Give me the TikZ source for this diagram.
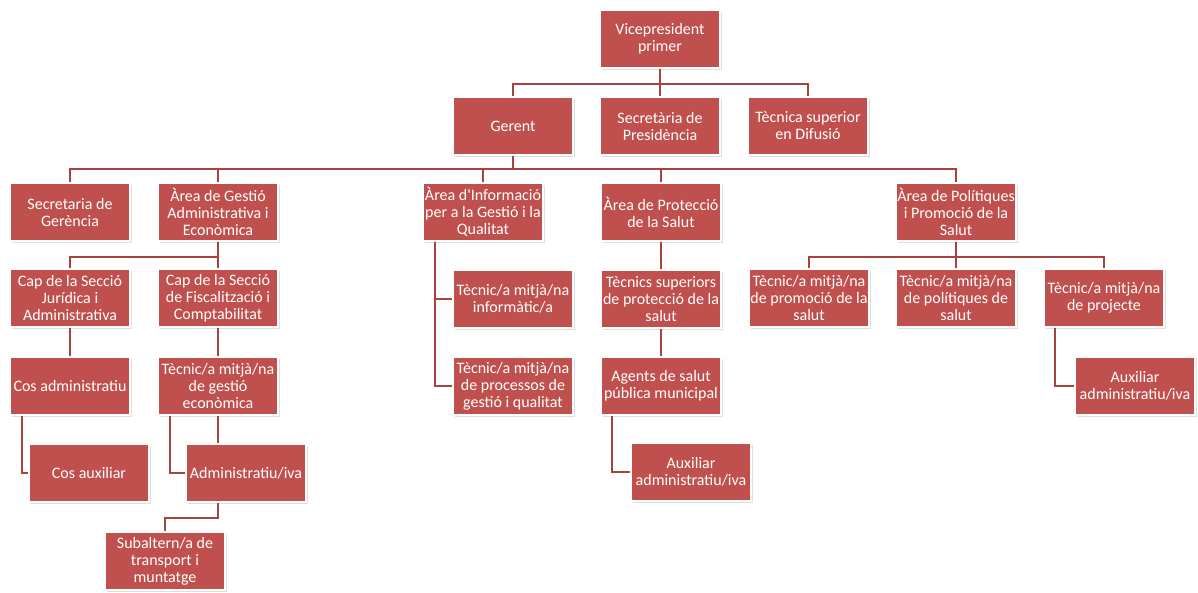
\documentclass[tikz,border=0pt]{standalone}
\usepackage{fontspec}
\setmainfont{Carlito}[Ligatures=TeXOff]
\usetikzlibrary{shadows}
\definecolor{boxred}{HTML}{C0504D}
\definecolor{linered}{HTML}{A8423F}
\tikzset{
  post/.style={rectangle, fill=boxred, draw=white, line width=1.5pt,
    minimum width=120pt, minimum height=58pt, inner sep=1pt,
    text=white, align=center, font=\fontsize{16}{17}\selectfont,
    drop shadow={shadow xshift=1.5pt, shadow yshift=-2pt, opacity=0.25}},
  link/.style={draw=linered, line width=2pt}
}
\begin{document}
\begin{tikzpicture}[x=1pt, y=-1pt]
  \useasboundingbox (0,0) rectangle (1198,592);
  % top
  \node[post] (vp) at (660,39) {Vicepresident\\primer};
  \node[post] (gerent) at (513,126) {Gerent};
  \node[post] (secpres) at (660,126) {Secretària de\\Presidència};
  \node[post] (difusio) at (808,126) {Tècnica superior\\en Difusió};
  % areas
  \node[post] (secger) at (70,212) {Secretaria de\\Gerència};
  \node[post] (gestio) at (218,212) {Àrea de Gestió\\Administrativa i\\Econòmica};
  \node[post] (info) at (483,212) {Àrea d'Informació\\per a la Gestió i la\\Qualitat};
  \node[post] (proteccio) at (661,212) {Àrea de Protecció\\de la Salut};
  \node[post] (politiques) at (956,212) {Àrea de Polítiques\\i Promoció de la\\Salut};
  % third row
  \node[post] (capjur) at (70,298) {Cap de la Secció\\Jurídica i\\Administrativa};
  \node[post] (capfis) at (218,298) {Cap de la Secció\\de Fiscalització i\\Comptabilitat};
  \node[post] (informatic) at (513,299) {Tècnic/a mitjà/na\\informàtic/a};
  \node[post] (tecsup) at (661,299) {Tècnics superiors\\de protecció de la\\salut};
  \node[post] (promocio) at (809,298) {Tècnic/a mitjà/na\\de promoció de la\\salut};
  \node[post] (polsalut) at (956,298) {Tècnic/a mitjà/na\\de polítiques de\\salut};
  \node[post] (projecte) at (1104,298) {Tècnic/a mitjà/na\\de projecte};
  % fourth row
  \node[post] (cosadm) at (70,386) {Cos administratiu};
  \node[post] (tecgest) at (218,386) {Tècnic/a mitjà/na\\de gestió\\econòmica};
  \node[post] (processos) at (513,386) {Tècnic/a mitjà/na\\de processos de\\gestió i qualitat};
  \node[post] (agents) at (661,386) {Agents de salut\\pública municipal};
  \node[post] (auxpol) at (1135,386) {Auxiliar\\administratiu/iva};
  % bottom
  \node[post] (cosaux) at (89,473) {Cos auxiliar};
  \node[post] (administratiu) at (246,473) {Administratiu/iva};
  \node[post] (auxprot) at (691,472) {Auxiliar\\administratiu/iva};
  \node[post] (subaltern) at (165,561) {Subaltern/a de\\transport i\\muntatge};

  \coordinate (vpbus) at ([yshift=-15pt]vp.south);
  \foreach \n in {gerent, secpres, difusio}
    \draw[link] (vp.south) -- (vpbus) -| (\n.north);
  \coordinate (gerbus) at ([yshift=-13pt]gerent.south);
  \foreach \n in {secger, gestio, info, proteccio, politiques}
    \draw[link] (gerent.south) -- (gerbus) -| (\n.north);
  \coordinate (gesbus) at ([yshift=-15pt]gestio.south);
  \foreach \n in {capjur, capfis}
    \draw[link] (gestio.south) -- (gesbus) -| (\n.north);
  \coordinate (polbus) at ([yshift=-15pt]politiques.south);
  \foreach \n in {promocio, polsalut, projecte}
    \draw[link] (politiques.south) -- (polbus) -| (\n.north);
  \draw[link] (capjur) -- (cosadm);
  \draw[link] (capfis) -- (tecgest);
  \draw[link] (proteccio) -- (tecsup) -- (agents);
  \draw[link] ([xshift=-48pt]info.south) |- (informatic.west);
  \draw[link] ([xshift=-48pt]info.south) |- (processos.west);
  \draw[link] ([xshift=-48pt]cosadm.south) |- (cosaux.west);
  \draw[link] ([xshift=-48pt]tecgest.south) |- (administratiu.west);
  \draw[link] (tecgest.south) -- (tecgest.south |- administratiu.north);
  \draw[link] (tecgest.south |- administratiu.south) -- ++(0,15) -| (subaltern.north);
  \draw[link] ([xshift=-49pt]agents.south) |- (auxprot.west);
  \draw[link] ([xshift=-49pt]projecte.south) |- (auxpol.west);
\end{tikzpicture}
\end{document}
